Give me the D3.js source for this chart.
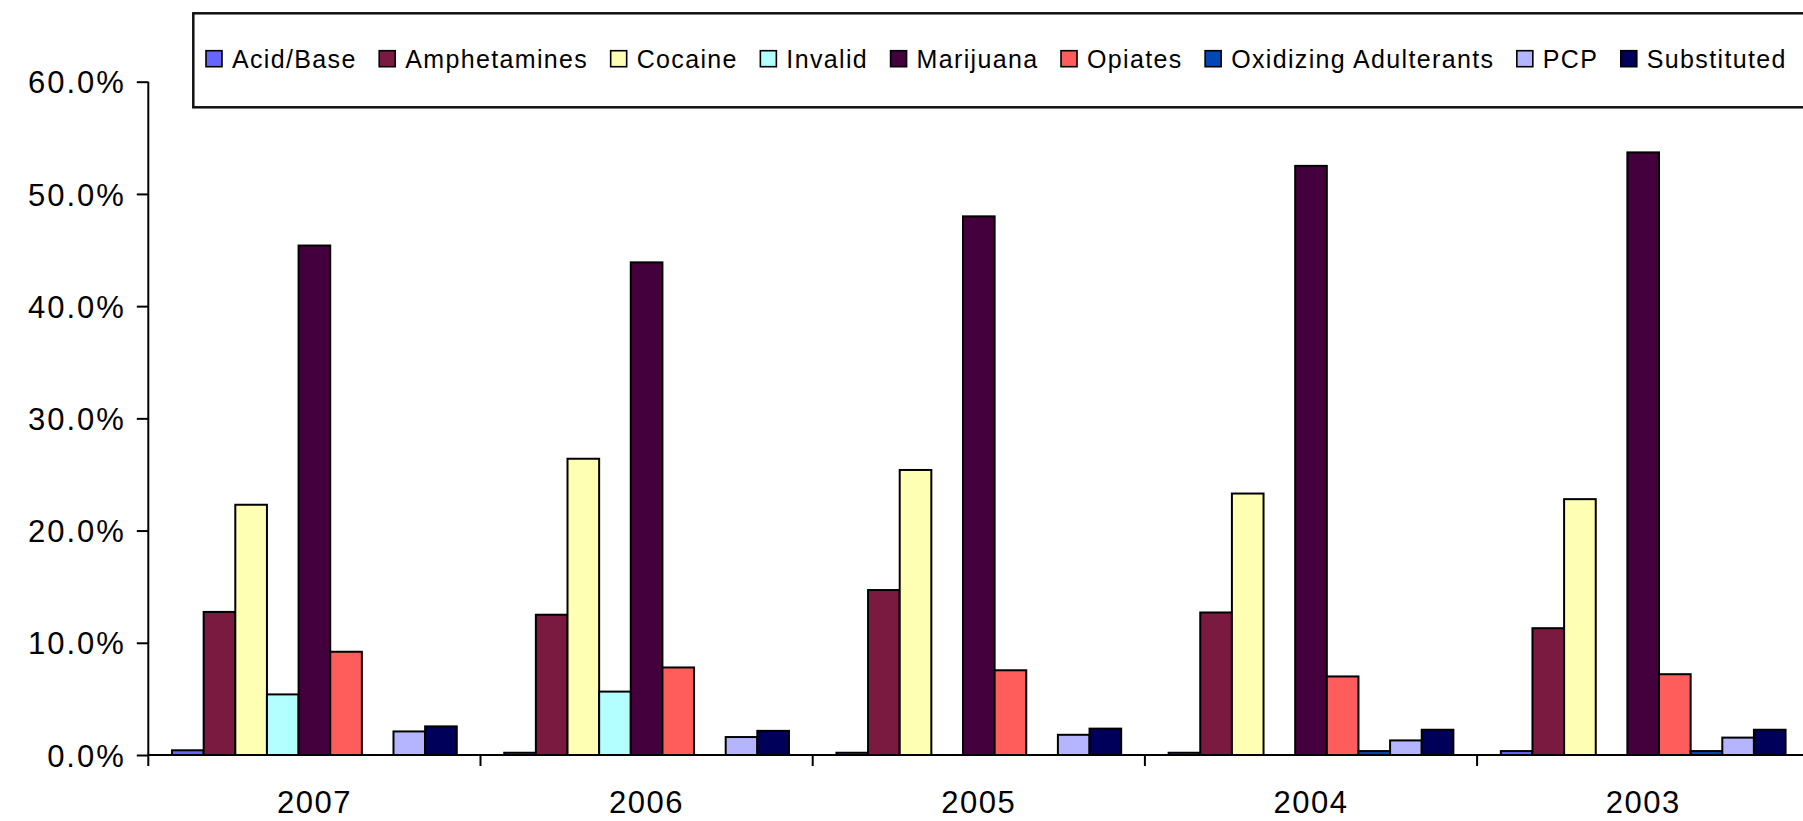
<!DOCTYPE html>
<html>
<head>
<meta charset="utf-8">
<script src="https://cdn.jsdelivr.net/npm/d3@7"></script>
<style>
  html, body { margin: 0; padding: 0; background: #fff; overflow: hidden; }
  svg { display: block; font-family: "Liberation Sans", Arial, sans-serif; }
</style>
</head>
<body>
<svg id="chart" width="1803" height="821"></svg>
<script>
// ---- data (percent values) ----
const years = ["2007", "2006", "2005", "2004", "2003"];
const seriesNames = ["Acid/Base", "Amphetamines", "Cocaine", "Invalid", "Marijuana",
                     "Opiates", "Oxidizing Adulterants", "PCP", "Substituted"];
const acidBase      = [0.42, 0.2, 0.2, 0.2, 0.35];
const amphetamines  = [12.75, 12.5, 14.7, 12.7, 11.3];
const cocaine       = [22.3, 26.4, 25.4, 23.3, 22.8];
const invalid       = [5.4, 5.65, 0, 0, 0];
const marijuana     = [45.4, 43.9, 48.0, 52.5, 53.7];
const opiates       = [9.2, 7.8, 7.55, 7.0, 7.2];
const oxidizing     = [0, 0, 0, 0.35, 0.35];
const pcp           = [2.1, 1.6, 1.8, 1.3, 1.55];
const substituted   = [2.55, 2.15, 2.35, 2.25, 2.25];
const yTicks = [0, 10, 20, 30, 40, 50, 60];
const colors = ["#6666ff", "#7a1a40", "#ffffb3", "#b3ffff", "#43003c",
                "#ff5c5c", "#0047b8", "#b5b5ff", "#00005a"];

const seriesValues = [acidBase, amphetamines, cocaine, invalid, marijuana,
                      opiates, oxidizing, pcp, substituted];

// ---- layout ----
const plotLeft = 148.3, plotTop = 81.7, plotBottom = 755;
const catWidth = 332.2;
const plotRight = plotLeft + catWidth * years.length;

const svg = d3.select("#chart");

const x0 = d3.scaleBand().domain(years).range([plotLeft, plotRight]).padding(0);
const gap = x0.bandwidth() * 0.75 / 10.5;
const x1 = d3.scaleBand().domain(seriesNames).range([gap, x0.bandwidth() - gap]).padding(0);
const y = d3.scaleLinear().domain([0, 60]).range([plotBottom, plotTop]);
const color = d3.scaleOrdinal().domain(seriesNames).range(colors);

// ---- bars ----
const rows = years.map((yr, i) => ({
  year: yr,
  vals: seriesNames.map((s, j) => ({ series: s, value: seriesValues[j][i] }))
}));

const groups = svg.append("g").selectAll("g").data(rows).join("g")
  .attr("transform", d => `translate(${x0(d.year)},0)`);

groups.selectAll("rect").data(d => d.vals).join("rect")
  .attr("x", d => x1(d.series))
  .attr("y", d => y(d.value))
  .attr("width", x1.bandwidth())
  .attr("height", d => y(0) - y(d.value))
  .attr("fill", d => color(d.series))
  .attr("stroke", "#000")
  .attr("stroke-width", d => d.value > 0 ? 2 : 0);

// ---- axes ----
const yAxis = d3.axisLeft(y).tickValues(yTicks)
  .tickFormat(d => d3.format(".1f")(d) + "%")
  .tickSize(11.5).tickPadding(11);
const gy = svg.append("g").attr("transform", `translate(${plotLeft},0)`).call(yAxis);
gy.select(".domain").attr("stroke", "#000").attr("stroke-width", 2)
  .attr("d", `M0,${plotTop}V${plotBottom}`);
gy.selectAll(".tick line").attr("stroke", "#000").attr("stroke-width", 2);
gy.selectAll(".tick text").attr("fill", "#000")
  .style("font-size", "31px").style("letter-spacing", "2px")
  .attr("dy", "0.36em");

const xAxis = d3.axisBottom(x0).tickSize(0).tickPadding(0);
const gx = svg.append("g").attr("transform", `translate(0,${plotBottom})`).call(xAxis);
gx.select(".domain").attr("stroke", "#000").attr("stroke-width", 2)
  .attr("d", `M${plotLeft},0H${plotRight}`);
gx.selectAll(".tick text").attr("fill", "#000")
  .style("font-size", "31px").style("letter-spacing", "1.5px")
  .attr("y", 58).attr("dy", 0);
// boundary tick marks between categories
const bounds = years.map(yr => x0(yr));
gx.append("g").selectAll("line").data(bounds).join("line")
  .attr("x1", d => d).attr("x2", d => d)
  .attr("y1", 0).attr("y2", 11)
  .attr("stroke", "#000").attr("stroke-width", 2);

// ---- legend ----
const legend = svg.append("g");
legend.append("rect")
  .attr("x", 193.3).attr("y", 13.3)
  .attr("width", 1803).attr("height", 94)
  .attr("fill", "#fff").attr("stroke", "#111").attr("stroke-width", 2.5);

let lx = 206;
seriesNames.forEach((s, i) => {
  const g = legend.append("g").attr("transform", `translate(${lx},0)`);
  g.append("rect").attr("x", 0).attr("y", 50.7).attr("width", 16).attr("height", 16)
    .attr("fill", color(s)).attr("stroke", "#000").attr("stroke-width", 1.6);
  const t = g.append("text").attr("x", 26).attr("y", 67.5)
    .attr("fill", "#000").style("font-size", "25px").style("letter-spacing", "1.35px")
    .text(s);
  const w = t.node().getComputedTextLength();
  lx += 26 + w + 22.5;
});
</script>
</body>
</html>
